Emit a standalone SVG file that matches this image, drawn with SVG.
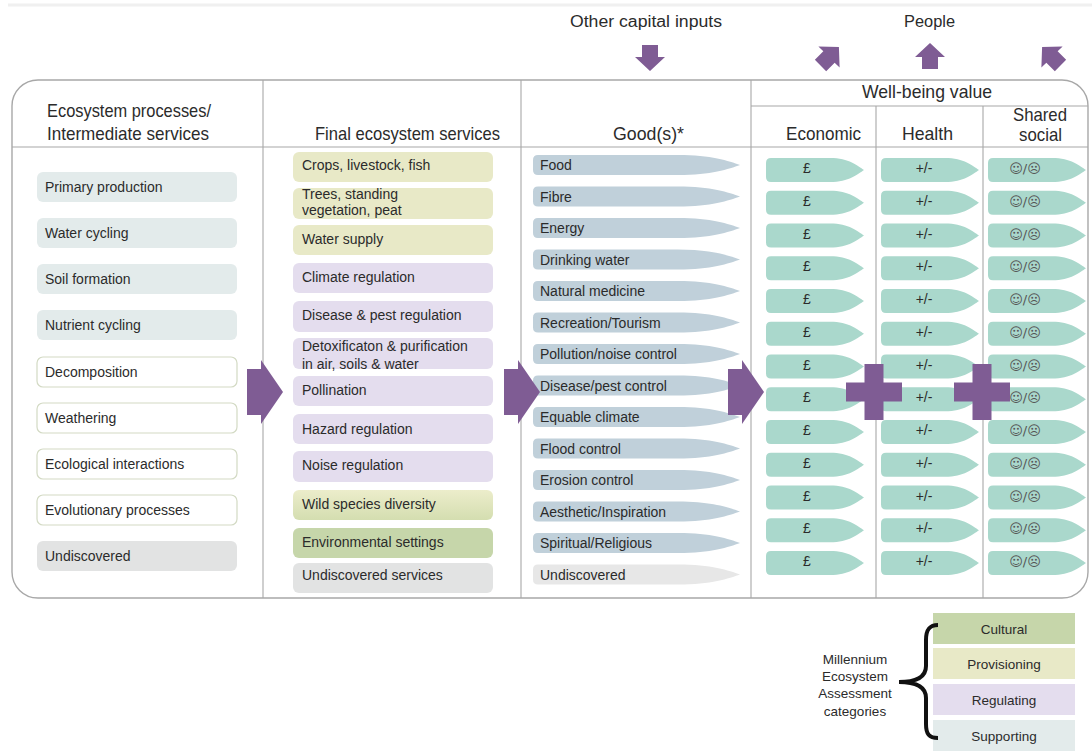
<svg xmlns="http://www.w3.org/2000/svg" width="1092" height="751" viewBox="0 0 1092 751">
<defs>
<style>
  text { font-family: "Liberation Sans", Arial, sans-serif; fill: #2b2b2b; }
  .hdr { font-size: 19px; }
  .top { font-size: 16px; }
  .it { font-size: 14px; }
  .leg { font-size: 13.5px; text-anchor: middle; }
  .sup { fill: #e3ebeb; }
  .proc { fill: #ffffff; stroke: #d3dac4; stroke-width: 1.2; }
  .und { fill: #e2e3e3; }
  .prov { fill: #e8e9c7; }
  .reg { fill: #e4ddee; }
  .cult { fill: #c6d6aa; }
  .good { fill: #c0d0da; }
  .goodU { fill: #e7e7e7; }
  .val { fill: #aad8cc; }
  .vt { font-size: 14px; text-anchor: middle; }
  .sm { font-family: "DejaVu Sans", sans-serif; font-size: 13px; fill: #555; text-anchor: middle; }
  .arr { fill: #7f5c94; }
  .frame { fill: none; stroke: #a8a8a8; stroke-width: 1.4; }
  .grid { stroke: #a8a8a8; stroke-width: 1.1; fill: none; }
</style>
<!-- tapered "goods" bar, origin at left-centre -->
<path id="goodShape" d="M5,-10 H145 C178,-10 196,-4 207,0 C196,4 178,10 145,10 H5 Q0,10 0,5 V-5 Q0,-10 5,-10 Z"/>
<!-- tapered value tag, origin at left-centre -->
<path id="valShape" d="M5,-12 H64 C83,-12 92,-4 98,0 C92,4 83,12 64,12 H5 Q0,12 0,7 V-7 Q0,-12 5,-12 Z"/>
<polygon id="bigArrow" points="0,-23 14,-23 14,-32 36,0 14,32 14,23 0,23"/>
<polygon id="smallArrow" points="0,-14 15,0 8,0 8,12 -8,12 -8,0 -15,0"/>
<polygon id="plusSign" points="-9.5,-28 9.5,-28 9.5,-9.5 28,-9.5 28,9.5 9.5,9.5 9.5,28 -9.5,28 -9.5,9.5 -28,9.5 -28,-9.5 -9.5,-9.5"/>
<linearGradient id="wildGrad" x1="0" y1="0" x2="0" y2="1">
  <stop offset="0" stop-color="#ecedcb"/>
  <stop offset="1" stop-color="#d4deb0"/>
</linearGradient>
</defs>

<rect x="0" y="0" width="1092" height="751" fill="#ffffff"/>
<line x1="8" y1="5" x2="1092" y2="5" stroke="#f0f0f0" stroke-width="3"/>

<!-- table frame -->
<g id="frame">
  <rect class="frame" x="12" y="80" width="1076" height="518" rx="26"/>
  <line class="grid" x1="12" y1="147" x2="1088" y2="147"/>
  <line class="grid" x1="751" y1="106" x2="1088" y2="106"/>
  <line class="grid" x1="263" y1="80" x2="263" y2="598"/>
  <line class="grid" x1="521" y1="80" x2="521" y2="598"/>
  <line class="grid" x1="751" y1="80" x2="751" y2="598"/>
  <line class="grid" x1="876" y1="106" x2="876" y2="598"/>
  <line class="grid" x1="983" y1="106" x2="983" y2="598"/>
</g>

<!-- column headings -->
<g id="headings">
  <text class="top" x="570" y="27" textLength="152" lengthAdjust="spacingAndGlyphs">Other capital inputs</text>
  <text class="top" x="904" y="27" textLength="51" lengthAdjust="spacingAndGlyphs">People</text>
  <text class="hdr" x="47" y="117" textLength="164" lengthAdjust="spacingAndGlyphs">Ecosystem processes/</text>
  <text class="hdr" x="47" y="140" textLength="162" lengthAdjust="spacingAndGlyphs">Intermediate services</text>
  <text class="hdr" x="315" y="140" textLength="185" lengthAdjust="spacingAndGlyphs">Final ecosystem services</text>
  <text class="hdr" x="613" y="140" textLength="71" lengthAdjust="spacingAndGlyphs">Good(s)*</text>
  <text class="hdr" x="862" y="98" textLength="130" lengthAdjust="spacingAndGlyphs">Well-being value</text>
  <text class="hdr" x="786" y="140" textLength="75" lengthAdjust="spacingAndGlyphs">Economic</text>
  <text class="hdr" x="902" y="140" textLength="51" lengthAdjust="spacingAndGlyphs">Health</text>
  <text class="hdr" x="1013" y="121" font-size="18" textLength="54" lengthAdjust="spacingAndGlyphs">Shared</text>
  <text class="hdr" x="1019" y="141" font-size="18" textLength="43" lengthAdjust="spacingAndGlyphs">social</text>
</g>

<!-- ecosystem processes / intermediate services -->
<g id="processes">
  <g id="p-primary"><rect class="sup" x="37" y="172" width="200" height="30" rx="6"/><text class="it" x="45" y="192">Primary production</text></g>
  <g id="p-water"><rect class="sup" x="37" y="218" width="200" height="30" rx="6"/><text class="it" x="45" y="238">Water cycling</text></g>
  <g id="p-soil"><rect class="sup" x="37" y="264" width="200" height="30" rx="6"/><text class="it" x="45" y="284">Soil formation</text></g>
  <g id="p-nutrient"><rect class="sup" x="37" y="310" width="200" height="30" rx="6"/><text class="it" x="45" y="330">Nutrient cycling</text></g>
  <g id="p-decomp"><rect class="proc" x="37" y="357" width="200" height="30" rx="6"/><text class="it" x="45" y="377">Decomposition</text></g>
  <g id="p-weather"><rect class="proc" x="37" y="403" width="200" height="30" rx="6"/><text class="it" x="45" y="423">Weathering</text></g>
  <g id="p-ecol"><rect class="proc" x="37" y="449" width="200" height="30" rx="6"/><text class="it" x="45" y="469">Ecological interactions</text></g>
  <g id="p-evol"><rect class="proc" x="37" y="495" width="200" height="30" rx="6"/><text class="it" x="45" y="515">Evolutionary processes</text></g>
  <g id="p-undisc"><rect class="und" x="37" y="541" width="200" height="30" rx="6"/><text class="it" x="45" y="561">Undiscovered</text></g>
</g>

<!-- final ecosystem services -->
<g id="services">
  <g id="s-crops"><rect class="prov" x="293" y="152" width="200" height="30" rx="6"/><text class="it" x="302" y="170">Crops, livestock, fish</text></g>
  <g id="s-trees"><rect class="prov" x="293" y="188" width="200" height="31" rx="6"/><text class="it" x="302" y="199">Trees, standing</text><text class="it" x="302" y="215">vegetation, peat</text></g>
  <g id="s-watersupply"><rect class="prov" x="293" y="225" width="200" height="30" rx="6"/><text class="it" x="302" y="244">Water supply</text></g>
  <g id="s-climate"><rect class="reg" x="293" y="263" width="200" height="30" rx="6"/><text class="it" x="302" y="282">Climate regulation</text></g>
  <g id="s-disease"><rect class="reg" x="293" y="301" width="200" height="31" rx="6"/><text class="it" x="302" y="320">Disease &amp; pest regulation</text></g>
  <g id="s-detox"><rect class="reg" x="293" y="338" width="200" height="31" rx="6"/><text class="it" x="302" y="351">Detoxificaton &amp; purification</text><text class="it" x="302" y="369">in air, soils &amp; water</text></g>
  <g id="s-pollination"><rect class="reg" x="293" y="376" width="200" height="30" rx="6"/><text class="it" x="302" y="395">Pollination</text></g>
  <g id="s-hazard"><rect class="reg" x="293" y="414" width="200" height="30" rx="6"/><text class="it" x="302" y="434">Hazard regulation</text></g>
  <g id="s-noise"><rect class="reg" x="293" y="451" width="200" height="31" rx="6"/><text class="it" x="302" y="470">Noise regulation</text></g>
  <g id="s-wild"><rect fill="url(#wildGrad)" x="293" y="490" width="200" height="30" rx="6"/><text class="it" x="302" y="509">Wild species diversity</text></g>
  <g id="s-env"><rect class="cult" x="293" y="528" width="200" height="30" rx="6"/><text class="it" x="302" y="547">Environmental settings</text></g>
  <g id="s-undisc"><rect class="und" x="293" y="563" width="200" height="30" rx="6"/><text class="it" x="302" y="580">Undiscovered services</text></g>
</g>

<!-- goods -->
<g id="goods">
  <g id="g-food"><use href="#goodShape" class="good" x="533" y="165"/><text class="it" x="540" y="170">Food</text></g>
  <g id="g-fibre"><use href="#goodShape" class="good" x="533" y="196.5"/><text class="it" x="540" y="201.5">Fibre</text></g>
  <g id="g-energy"><use href="#goodShape" class="good" x="533" y="228"/><text class="it" x="540" y="233">Energy</text></g>
  <g id="g-drinking"><use href="#goodShape" class="good" x="533" y="259.5"/><text class="it" x="540" y="264.5">Drinking water</text></g>
  <g id="g-medicine"><use href="#goodShape" class="good" x="533" y="291"/><text class="it" x="540" y="296">Natural medicine</text></g>
  <g id="g-recreation"><use href="#goodShape" class="good" x="533" y="322.5"/><text class="it" x="540" y="327.5">Recreation/Tourism</text></g>
  <g id="g-pollution"><use href="#goodShape" class="good" x="533" y="354"/><text class="it" x="540" y="359">Pollution/noise control</text></g>
  <g id="g-pest"><use href="#goodShape" class="good" x="533" y="385.5"/><text class="it" x="540" y="390.5">Disease/pest control</text></g>
  <g id="g-climate"><use href="#goodShape" class="good" x="533" y="417"/><text class="it" x="540" y="422">Equable climate</text></g>
  <g id="g-flood"><use href="#goodShape" class="good" x="533" y="448.5"/><text class="it" x="540" y="453.5">Flood control</text></g>
  <g id="g-erosion"><use href="#goodShape" class="good" x="533" y="480"/><text class="it" x="540" y="485">Erosion control</text></g>
  <g id="g-aesthetic"><use href="#goodShape" class="good" x="533" y="511.5"/><text class="it" x="540" y="516.5">Aesthetic/Inspiration</text></g>
  <g id="g-spiritual"><use href="#goodShape" class="good" x="533" y="543"/><text class="it" x="540" y="548">Spiritual/Religious</text></g>
  <g id="g-undisc"><use href="#goodShape" class="goodU" x="533" y="574.5"/><text class="it" x="540" y="579.5">Undiscovered</text></g>
</g>

<!-- well-being value tags: economic, health, shared social -->
<g id="values">
  <g id="v-row1"><use href="#valShape" class="val" x="766" y="170"/><use href="#valShape" class="val" x="881" y="170"/><use href="#valShape" class="val" x="988" y="170"/><text class="vt" x="807" y="173">£</text><text class="vt" x="924" y="173">+/-</text><text class="sm" x="1025" y="173">☺/☹</text></g>
  <g id="v-row2"><use href="#valShape" class="val" x="766" y="202.75"/><use href="#valShape" class="val" x="881" y="202.75"/><use href="#valShape" class="val" x="988" y="202.75"/><text class="vt" x="807" y="205.75">£</text><text class="vt" x="924" y="205.75">+/-</text><text class="sm" x="1025" y="205.75">☺/☹</text></g>
  <g id="v-row3"><use href="#valShape" class="val" x="766" y="235.5"/><use href="#valShape" class="val" x="881" y="235.5"/><use href="#valShape" class="val" x="988" y="235.5"/><text class="vt" x="807" y="238.5">£</text><text class="vt" x="924" y="238.5">+/-</text><text class="sm" x="1025" y="238.5">☺/☹</text></g>
  <g id="v-row4"><use href="#valShape" class="val" x="766" y="268.25"/><use href="#valShape" class="val" x="881" y="268.25"/><use href="#valShape" class="val" x="988" y="268.25"/><text class="vt" x="807" y="271.25">£</text><text class="vt" x="924" y="271.25">+/-</text><text class="sm" x="1025" y="271.25">☺/☹</text></g>
  <g id="v-row5"><use href="#valShape" class="val" x="766" y="301"/><use href="#valShape" class="val" x="881" y="301"/><use href="#valShape" class="val" x="988" y="301"/><text class="vt" x="807" y="304">£</text><text class="vt" x="924" y="304">+/-</text><text class="sm" x="1025" y="304">☺/☹</text></g>
  <g id="v-row6"><use href="#valShape" class="val" x="766" y="333.75"/><use href="#valShape" class="val" x="881" y="333.75"/><use href="#valShape" class="val" x="988" y="333.75"/><text class="vt" x="807" y="336.75">£</text><text class="vt" x="924" y="336.75">+/-</text><text class="sm" x="1025" y="336.75">☺/☹</text></g>
  <g id="v-row7"><use href="#valShape" class="val" x="766" y="366.5"/><use href="#valShape" class="val" x="881" y="366.5"/><use href="#valShape" class="val" x="988" y="366.5"/><text class="vt" x="807" y="369.5">£</text><text class="vt" x="924" y="369.5">+/-</text><text class="sm" x="1025" y="369.5">☺/☹</text></g>
  <g id="v-row8"><use href="#valShape" class="val" x="766" y="399.25"/><use href="#valShape" class="val" x="881" y="399.25"/><use href="#valShape" class="val" x="988" y="399.25"/><text class="vt" x="807" y="402.25">£</text><text class="vt" x="924" y="402.25">+/-</text><text class="sm" x="1025" y="402.25">☺/☹</text></g>
  <g id="v-row9"><use href="#valShape" class="val" x="766" y="432"/><use href="#valShape" class="val" x="881" y="432"/><use href="#valShape" class="val" x="988" y="432"/><text class="vt" x="807" y="435">£</text><text class="vt" x="924" y="435">+/-</text><text class="sm" x="1025" y="435">☺/☹</text></g>
  <g id="v-row10"><use href="#valShape" class="val" x="766" y="464.75"/><use href="#valShape" class="val" x="881" y="464.75"/><use href="#valShape" class="val" x="988" y="464.75"/><text class="vt" x="807" y="467.75">£</text><text class="vt" x="924" y="467.75">+/-</text><text class="sm" x="1025" y="467.75">☺/☹</text></g>
  <g id="v-row11"><use href="#valShape" class="val" x="766" y="497.5"/><use href="#valShape" class="val" x="881" y="497.5"/><use href="#valShape" class="val" x="988" y="497.5"/><text class="vt" x="807" y="500.5">£</text><text class="vt" x="924" y="500.5">+/-</text><text class="sm" x="1025" y="500.5">☺/☹</text></g>
  <g id="v-row12"><use href="#valShape" class="val" x="766" y="530.25"/><use href="#valShape" class="val" x="881" y="530.25"/><use href="#valShape" class="val" x="988" y="530.25"/><text class="vt" x="807" y="533.25">£</text><text class="vt" x="924" y="533.25">+/-</text><text class="sm" x="1025" y="533.25">☺/☹</text></g>
  <g id="v-row13"><use href="#valShape" class="val" x="766" y="563"/><use href="#valShape" class="val" x="881" y="563"/><use href="#valShape" class="val" x="988" y="563"/><text class="vt" x="807" y="566">£</text><text class="vt" x="924" y="566">+/-</text><text class="sm" x="1025" y="566">☺/☹</text></g>
</g>

<!-- flow arrows and plus signs -->
<g id="connectors">
  <use href="#bigArrow" class="arr" x="247" y="392"/>
  <use href="#bigArrow" class="arr" x="504" y="392"/>
  <use href="#bigArrow" class="arr" x="728" y="392"/>
  <use href="#plusSign" class="arr" x="874" y="392"/>
  <use href="#plusSign" class="arr" x="982" y="392"/>
  <use href="#smallArrow" class="arr" transform="translate(650,57) rotate(180)"/>
  <use href="#smallArrow" class="arr" transform="translate(829,57) rotate(45)"/>
  <use href="#smallArrow" class="arr" transform="translate(930,57)"/>
  <use href="#smallArrow" class="arr" transform="translate(1052,57) rotate(-45)"/>
</g>

<!-- category key -->
<g id="legend">
  <g id="l-cultural"><rect class="cult" x="933" y="613" width="142" height="31"/><text class="leg" x="1004" y="634">Cultural</text></g>
  <g id="l-prov"><rect class="prov" x="933" y="648" width="142" height="31"/><text class="leg" x="1004" y="669">Provisioning</text></g>
  <g id="l-reg"><rect class="reg" x="933" y="684" width="142" height="31"/><text class="leg" x="1004" y="705">Regulating</text></g>
  <g id="l-sup"><rect class="sup" x="933" y="720" width="142" height="31"/><text class="leg" x="1004" y="741">Supporting</text></g>
  <path d="M938,625 C929,625 926,630 926,640 V666 C926,676 918,682 899,682 C918,682 926,688 926,698 V724 C926,734 929,738 938,738" fill="none" stroke="#111" stroke-width="4"/>
  <text class="leg" x="855" y="664">Millennium</text>
  <text class="leg" x="855" y="681">Ecosystem</text>
  <text class="leg" x="855" y="698">Assessment</text>
  <text class="leg" x="855" y="716">categories</text>
</g>
</svg>
